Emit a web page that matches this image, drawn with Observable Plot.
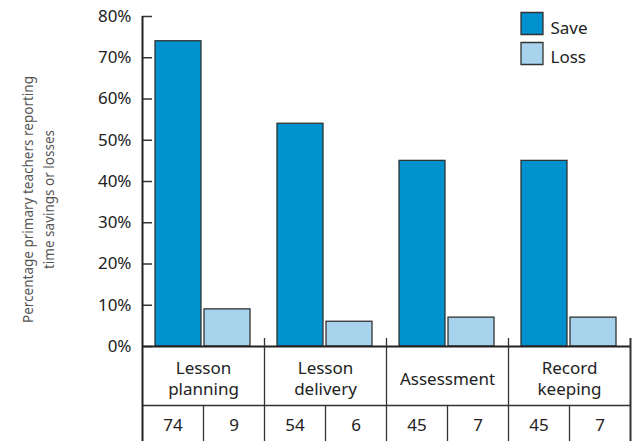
<!DOCTYPE html>
<html>
<head>
<meta charset="utf-8">
<script src="https://cdn.jsdelivr.net/npm/d3@7"></script>
<script src="https://cdn.jsdelivr.net/npm/@observablehq/plot@0.6"></script>
<style>
  html, body { margin: 0; padding: 0; background: #fff; }
  #chart svg { display: block; }
</style>
</head>
<body>
<div id="chart"></div>
<script>
// ---- data ----
const categories = ["Lesson planning", "Lesson delivery", "Assessment", "Record keeping"];
const categoryLabels = ["Lesson\nplanning", "Lesson\ndelivery", "Assessment", "Record\nkeeping"];
const series = ["Save", "Loss"];
const saveValues = [74, 54, 45, 45];
const lossValues = [9, 6, 7, 7];
const yTicks = [0, 0.1, 0.2, 0.3, 0.4, 0.5, 0.6, 0.7, 0.8];
const yTitle = "Percentage primary teachers reporting\ntime savings or losses";
const colors = {Save: "#0091cf", Loss: "#a7d3ec"};

const saveData = categories.map((c, i) => ({category: c, series: "Save", value: saveValues[i]}));
const lossData = categories.map((c, i) => ({category: c, series: "Loss", value: lossValues[i]}));
const labelData = categories.map((c, i) => ({category: c, label: categoryLabels[i]}));

const lineColor = "#333";
const half = 61; // half of category band width

const legendMarks = series.flatMap((s, i) => [
  Plot.dot([s], {frameAnchor: "top-right", dx: -98.5, dy: 7 + i * 30, symbol: "square", r: 12.4,
    fill: colors[s], stroke: lineColor, strokeWidth: 1.3}),
  Plot.text([s], {frameAnchor: "top-right", text: d => d, textAnchor: "start", lineAnchor: "middle",
    dx: -80, dy: 12 + i * 29, fill: "#222", fontSize: 17})
]);

const chart = Plot.plot({
  width: 635,
  height: 441,
  marginTop: 16,
  marginBottom: 95,
  marginLeft: 142,
  marginRight: 5,
  style: {fontFamily: "'Noto Sans', sans-serif", fontSize: "17px", color: "#222", background: "#fff"},
  x: {type: "band", domain: categories, padding: 0, axis: null},
  y: {domain: [0, 0.8], ticks: yTicks, tickFormat: d3.format(".0%"), tickSize: 0, tickPadding: 11, label: null},
  marks: [
    // bars
    Plot.barY(saveData, {x: "category", y: d => d.value / 100, fill: colors.Save, stroke: lineColor,
      strokeWidth: 1.3, insetLeft: 13, insetRight: 63}),
    Plot.barY(lossData, {x: "category", y: d => d.value / 100, fill: colors.Loss, stroke: lineColor,
      strokeWidth: 1.3, insetLeft: 62, insetRight: 14}),
    // y tick marks
    Plot.ruleY(yTicks, {stroke: lineColor, strokeWidth: 1.5, insetRight: 478}),
    // baseline and table middle line
    Plot.ruleY([0], {stroke: "#222", strokeWidth: 2}),
    Plot.ruleY([0], {stroke: lineColor, strokeWidth: 1.3, dy: 59}),
    // left axis line
    Plot.ruleX([categories[0]], {x: d => d, y1: 0.8, y2: 0, dx: -half, insetBottom: -100, stroke: "#222", strokeWidth: 2}),
    // category dividers
    Plot.ruleX(categories.slice(1), {x: d => d, y1: 0, y2: 0, dx: -half, insetTop: -8, insetBottom: -100,
      stroke: lineColor, strokeWidth: 1.3}),
    Plot.ruleX([categories[categories.length - 1]], {x: d => d, y1: 0, y2: 0, dx: half, insetTop: -8, insetBottom: -100,
      stroke: lineColor, strokeWidth: 2}),
    // value-row sub dividers
    Plot.ruleX(categories, {x: d => d, y1: 0, y2: 0, insetTop: 59, insetBottom: -100,
      stroke: lineColor, strokeWidth: 1.3}),
    // category labels
    Plot.text(labelData, {x: "category", text: "label", frameAnchor: "bottom", dy: 31.5, lineAnchor: "middle",
      lineHeight: 1.24, fill: "#222", fontSize: 17}),
    // values
    Plot.text(saveData, {x: "category", text: d => String(d.value), frameAnchor: "bottom", dy: 79, dx: -30.5,
      lineAnchor: "middle", fill: "#222", fontSize: 17}),
    Plot.text(lossData, {x: "category", text: d => String(d.value), frameAnchor: "bottom", dy: 79, dx: 30.5,
      lineAnchor: "middle", fill: "#222", fontSize: 17}),
    // y title
    Plot.text([yTitle], {text: d => d, frameAnchor: "left", rotate: -90, dx: -105.5, dy: 18,
      textAnchor: "middle", lineAnchor: "middle", lineHeight: 1.5, fontSize: 13.5, fill: "#555"}),
    ...legendMarks
  ]
});
document.getElementById("chart").appendChild(chart);
</script>
</body>
</html>
